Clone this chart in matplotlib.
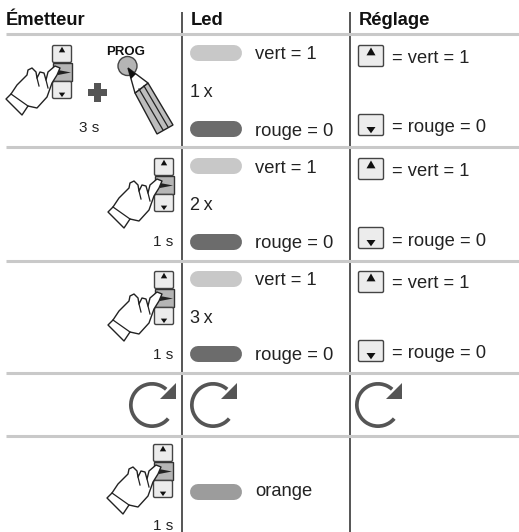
import matplotlib
matplotlib.use("Agg")
import matplotlib.pyplot as plt
from matplotlib.patches import Polygon, Rectangle, FancyBboxPatch, Circle, Arc

plt.rcParams["font.family"] = "Liberation Sans"
W, H = 519, 532
headers = ["Émetteur", "Led", "Réglage"]
header_x = [6, 190.5, 359]
row_lines = [34, 147, 260.5, 373, 436]
col_lines = [181.5, 350]
times = ["3 s", "1 s", "1 s", "1 s"]
time_pos = [(89.5, 132.5), (173.5, 246), (173.5, 359), (173.5, 530)]
counts = ["1\u2009x", "2\u2009x", "3\u2009x"]
count_base = [97, 209.5, 323]
green_y = [53, 166, 279]
red_y = [129, 242, 354]
green_base = [59, 173, 285]
red_base = [135.5, 248, 360.5]
led_labels = ["vert = 1", "rouge = 0", "orange"]
orange_y = 492
orange_base = 496
set_labels = ["= vert = 1", "= rouge = 0"]
key_up_top = [45, 158, 271]
key_down_top = [114, 227, 340]
set_up_base = [63, 176.5, 288.5]
set_down_base = [132.5, 245.5, 357.5]
hand_buttons = [(52, 45), (154, 158), (154, 271), (153, 444)]
refresh_x = [152, 213, 378]
refresh_y = 405

fig = plt.figure(figsize=(W/100, H/100), dpi=100)
ax = fig.add_axes([0, 0, 1, 1])
ax.set_xlim(0, W); ax.set_ylim(H, 0); ax.axis("off")
INK = "#222222"

for x in col_lines:
    ax.plot([x, x], [12, 532], color="#555555", lw=1.4, solid_capstyle="butt", zorder=1)
for y in row_lines:
    ax.plot([6, 519], [y, y], color="#c9c9c9", lw=2.2, solid_capstyle="butt", zorder=1.5)
for t, x in zip(headers, header_x):
    ax.text(x, 25, t, fontsize=13.2, fontweight="bold", va="baseline", color="#111111")

def pill(y, c, x0=190, x1=241.5, h=16):
    ax.plot([x0+h/2, x1-h/2], [y, y], color=c, lw=h*0.72, solid_capstyle="round", zorder=2)

def key(x, y, w, h, up, fc="#ececec", s=4.5):
    ax.add_patch(FancyBboxPatch((x+.5, y+.5), w-1, h-1, boxstyle="round,pad=0,rounding_size=1.5",
                 fc=fc, ec="#444444", lw=1.0, zorder=4))
    cx = x+w/2
    if up:
        pts = [(cx-s, y+s*2.3), (cx+s, y+s*2.3), (cx, y+s*.55)]
    else:
        pts = [(cx-s, h+y-s*2.0), (cx+s, h+y-s*2.0), (cx, h+y-s*.6)]
    ax.add_patch(Polygon(pts, fc="#111111", ec="none", zorder=5))

HAND = [(-46,54),(-41,49),(-35,40),(-25,30),(-24,25),(-20,23),(-16,27),(-15,33),(-12,27),(-8,28),(-6,35),
        (-4,27),(3,21),(8,23),(5,30),(0,38),(-5,52),(-15,63),(-24,61),(-30,70)]
FINGERS = [((-15,33),(-13,41)), ((-6,35),(-4,43)), ((-24,61),(-41,49))]

def hand(bx, by):
    key(bx, by, 20, 18, True, s=3.2)
    ax.add_patch(Rectangle((bx+.5, by+18), 19, 18, fc="#b5b5b5", ec="#333333", lw=1.0, zorder=4))
    ax.add_patch(Polygon([(bx+6, by+25), (bx+19, by+27.5), (bx+6, by+30)], fc="#222222", ec="none", zorder=5))
    key(bx, by+36, 20, 18, False, s=3.2)
    pts = [(bx+x, by+y) for x, y in HAND]
    ax.add_patch(Polygon(pts, closed=True, fc="white", ec="#222222", lw=1.0, zorder=6, joinstyle="round"))
    for a, b in FINGERS:
        ax.plot([bx+a[0], bx+b[0]], [by+a[1], by+b[1]], color="#222222", lw=.9, zorder=7)

for bx, by in hand_buttons:
    hand(bx, by)

# plus sign and pencil
ax.add_patch(Rectangle((88, 89), 19, 7, fc="#555555", ec="none"))
ax.add_patch(Rectangle((94, 83), 7, 19, fc="#555555", ec="none"))
ax.text(126, 52, "PROG", fontsize=9.5, fontweight="bold", ha="center", va="center", color="#111111")
ax.add_patch(Circle((127.5, 66), 9.5, fc="#b5b5b5", ec="#444444", lw=1.0))
ax.add_patch(Polygon([(135, 93), (148, 83), (173, 125), (157, 134)], fc="#bdbdbd", ec="#222222", lw=1.0, zorder=3))
ax.add_patch(Polygon([(128, 68), (148, 83), (135, 93)], fc="white", ec="#222222", lw=1.0, zorder=4))
ax.add_patch(Polygon([(128, 68), (136, 74), (131, 79)], fc="#111111", ec="none", zorder=5))
ax.plot([139, 163], [89, 130], color="#222222", lw=.9, zorder=4)
ax.plot([144, 168], [86, 127], color="#222222", lw=.9, zorder=4)

for (x, y), t in zip(time_pos, times):
    ax.text(x, y, t, fontsize=11, ha="center" if t == "3 s" else "right", va="baseline", color=INK)
for y, t in zip(count_base, counts):
    ax.text(190.5, y, t, fontsize=13, va="baseline", color=INK)
for y, b in zip(green_y, green_base):
    pill(y, "#c8c8c8")
    ax.text(255, b, led_labels[0], fontsize=13.2, va="baseline", color=INK)
for y, b in zip(red_y, red_base):
    pill(y, "#6c6c6c")
    ax.text(255, b, led_labels[1], fontsize=13.2, va="baseline", color=INK)
pill(orange_y, "#9c9c9c")
ax.text(255, orange_base, led_labels[2], fontsize=13.2, va="baseline", color=INK)

for t, b in zip(key_up_top, set_up_base):
    key(358, t, 26, 22, True)
    ax.text(391.5, b, set_labels[0], fontsize=13.2, va="baseline", color=INK)
for t, b in zip(key_down_top, set_down_base):
    key(358, t, 26, 22, False)
    ax.text(391.5, b, set_labels[1], fontsize=13.2, va="baseline", color=INK)

for x in refresh_x:
    ax.add_patch(Arc((x, refresh_y), 42.3, 42.3, theta1=40, theta2=312, color="#555555", lw=2.66))
    ax.add_patch(Polygon([(x+24, 383), (x+24, 398.5), (x+8, 398.5)], fc="#555555", ec="none"))

fig.savefig("out.png", dpi=100)
